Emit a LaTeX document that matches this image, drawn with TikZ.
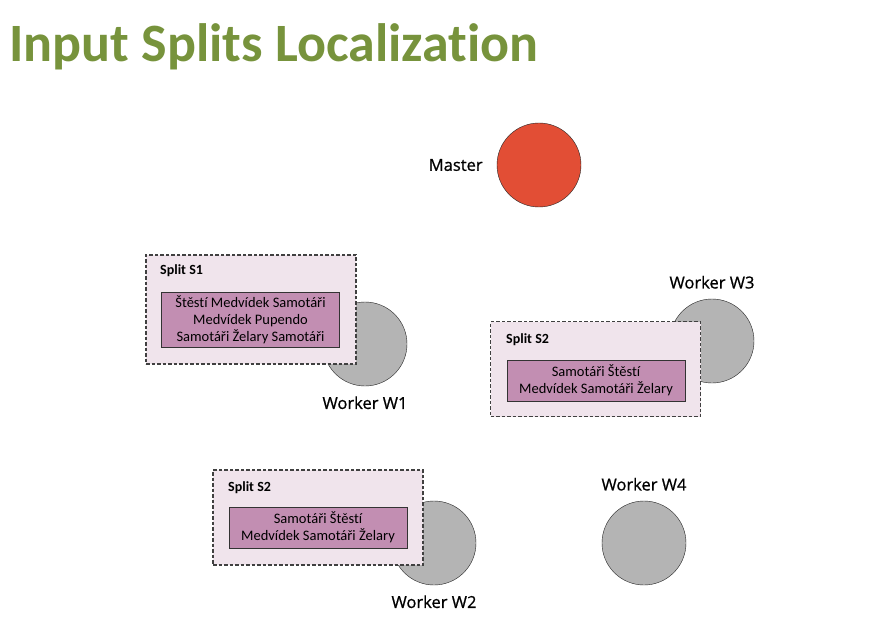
\documentclass[tikz,border=0pt]{standalone}
\usepackage{fontspec}
\setmainfont{Carlito}[Ligatures=NoCommon]
\newfontfamily\labelfont{Open Sans}[FakeBold=0.8]
\usetikzlibrary{positioning}
\definecolor{titlegreen}{HTML}{77933C}
\definecolor{masterred}{HTML}{E24E35}
\definecolor{workergray}{HTML}{B4B4B4}
\definecolor{splitpink}{HTML}{F0E4EC}
\definecolor{chunkpink}{HTML}{C28EB2}
\tikzset{
    host/.style={circle, draw=black!85, thin, minimum size=84pt, inner sep=0pt},
    master/.style={host, fill=masterred},
    worker/.style={host, fill=workergray},
    hostlabel/.style={font=\labelfont\fontsize{16.5}{19}\selectfont, inner sep=0pt},
    splitbox/.style={draw=black!75, dash pattern=on 3.5pt off 2pt, line width=1.1pt, fill=splitpink, minimum width=210pt, minimum height=95pt, inner sep=0pt},
    splittitle/.style={font=\bfseries\fontsize{14}{15}\selectfont, inner sep=0pt, anchor=west},
    chunk/.style={draw=black!80, thick, fill=chunkpink, minimum width=178pt, minimum height=41pt, inner sep=0pt, align=center, font=\fontsize{14.5}{17}\selectfont}
}
\begin{document}
\begin{tikzpicture}[x=1pt, y=-1pt]
    \useasboundingbox[fill=white] (0,0) rectangle (880,636);
    % title
    \node[anchor=base west, inner sep=0pt, text=titlegreen, font=\bfseries\fontsize{54}{60}\selectfont] (title) at (9,62) {Input Splits Localization};
    % nodes
    \node[master] (master) at (539,165) {};
    \node[hostlabel, left=14pt of master] (masterlabel) {Master};
    \node[worker] (w1) at (365,344) {};
    \node[hostlabel, below=10pt of w1] (w1label) {Worker W1};
    \node[worker] (w3) at (712,341) {};
    \node[hostlabel, above=10pt of w3] (w3label) {Worker W3};
    \node[worker] (w2) at (434,543) {};
    \node[hostlabel, below=10pt of w2] (w2label) {Worker W2};
    \node[worker] (w4) at (644,543) {};
    \node[hostlabel, above=10pt of w4] (w4label) {Worker W4};
    % splits
    \node[splitbox, minimum height=109pt] (s1) at (251,309.5) {};
    \node[splittitle] (s1title) at (160,271) {Split S1};
    \node[chunk, minimum height=55pt] (s1chunk) at (250.5,319.5) {Štěstí Medvídek Samotáři\\Medvídek Pupendo\\Samotáři Želary Samotáři};
    \node[splitbox] (s2a) at (595.5,369) {};
    \node[splittitle] (s2atitle) at (506,340) {Split S2};
    \node[chunk] (s2achunk) at (596,380.5) {Samotáři Štěstí\\Medvídek Samotáři Želary};
    \node[splitbox] (s2b) at (318,517.5) {};
    \node[splittitle] (s2btitle) at (228,488) {Split S2};
    \node[chunk] (s2bchunk) at (318,527.5) {Samotáři Štěstí\\Medvídek Samotáři Želary};
\end{tikzpicture}
\end{document}
